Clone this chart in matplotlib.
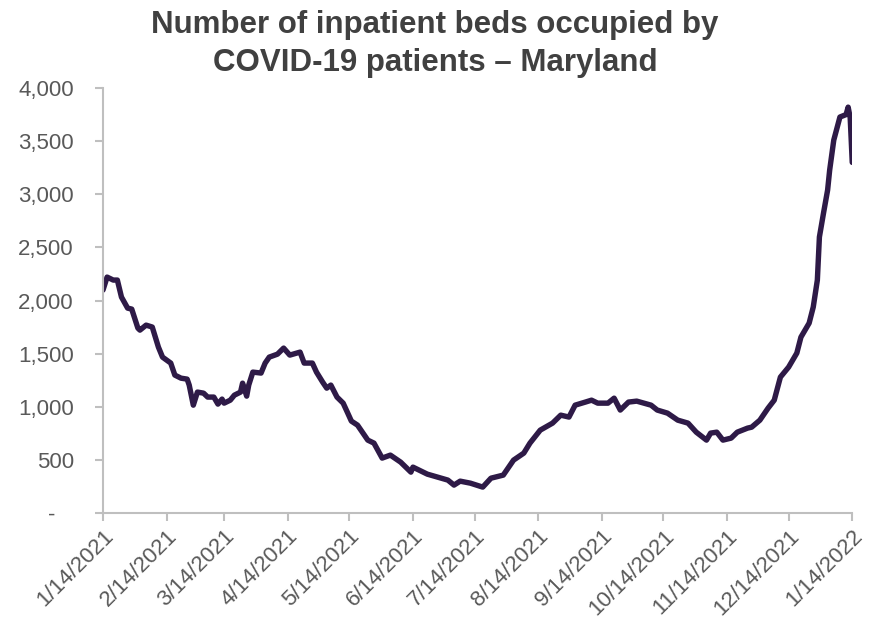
import pandas as pd
import matplotlib
matplotlib.use('Agg')
import matplotlib.pyplot as plt
import matplotlib.dates as mdates
from matplotlib.ticker import FuncFormatter

plt.rcParams['font.family'] = ['Liberation Sans', 'DejaVu Sans']

# days after 1/14/2021 and beds occupied
days = [0, 2, 5, 7, 9, 12, 14, 17, 18, 21, 24, 27, 29, 33, 35, 38, 41, 42, 44, 46,
        49, 51, 54, 56, 58, 59, 62, 64, 67, 68, 70, 71, 73, 77, 79, 81, 85, 88, 91, 96,
        98, 102, 104, 107, 109, 111, 114, 117, 119, 121, 124, 129, 132, 136, 140, 145, 150, 151, 158, 163,
        168, 171, 174, 179, 185, 189, 195, 200, 205, 208, 213, 219, 223, 227, 230, 235, 238, 241, 246, 249,
        252, 256, 260, 267, 270, 275, 280, 285, 289, 294, 296, 299, 302, 306, 309, 314, 316, 320, 324, 327,
        330, 334, 338, 340, 344, 346, 348, 349, 351, 353, 354, 356, 359, 362, 363, 364, 365]
beds = [2099, 2221, 2193, 2193, 2033, 1929, 1920, 1741, 1722, 1769, 1751, 1562, 1468, 1412, 1299, 1270, 1261, 1205, 1016, 1139,
        1129, 1092, 1092, 1026, 1073, 1035, 1063, 1110, 1139, 1223, 1101, 1205, 1327, 1318, 1412, 1468, 1496, 1553, 1487, 1515,
        1412, 1412, 1327, 1233, 1176, 1205, 1092, 1035, 951, 866, 828, 687, 659, 518, 546, 480, 386, 433, 367, 339,
        311, 264, 301, 282, 245, 329, 358, 499, 565, 659, 781, 847, 922, 904, 1016, 1045, 1063, 1035, 1035, 1082,
        970, 1045, 1054, 1016, 970, 941, 875, 847, 762, 687, 753, 762, 687, 706, 762, 800, 809, 875, 988, 1063,
        1280, 1374, 1506, 1656, 1788, 1939, 2193, 2598, 2823, 3040, 3228, 3510, 3727, 3750, 3820, 3720, 3300]

start = pd.Timestamp('2021-01-14')
end = pd.Timestamp('2022-01-14')
dates = start + pd.to_timedelta(days, unit='D')
tick_dates = pd.date_range('2021-01-01', '2022-01-01', freq='MS') + pd.Timedelta(days=13)

fig = plt.figure(figsize=(8.75, 6.22), dpi=100)
ax = fig.add_axes([0.1177, 0.175, 0.8563, 0.6835])

ax.plot(dates, beds, color='#2E1A47', lw=3.9, solid_joinstyle='round', solid_capstyle='round')

ax.set_xlim(start, end)
ax.set_ylim(0, 4000)
ax.set_yticks(range(0, 4001, 500))
ax.yaxis.set_major_formatter(FuncFormatter(lambda v, p: '-   ' if v == 0 else f'{int(v):,}'))
ax.set_xticks(tick_dates)
ax.xaxis.set_major_formatter(FuncFormatter(
    lambda v, p: f'{mdates.num2date(v).month}/{mdates.num2date(v).day}/{mdates.num2date(v).year}'))

for s in ['top', 'right']:
    ax.spines[s].set_visible(False)
for s in ['left', 'bottom']:
    ax.spines[s].set_color('#BFBFBF')
    ax.spines[s].set_linewidth(1.5)

ax.tick_params(axis='both', colors='#BFBFBF', width=1.5, length=6, labelcolor='#595959', labelsize=16)
ax.tick_params(axis='y', pad=15)
ax.tick_params(axis='x', pad=3)
for lbl in ax.get_xticklabels():
    lbl.set_rotation(45)
    lbl.set_ha('right')
    lbl.set_rotation_mode('anchor')

fig.text(0.497, 0.984, 'Number of inpatient beds occupied by\nCOVID-19 patients \u2013 Maryland',
         ha='center', va='top', fontsize=22.5, fontweight='bold', color='#404040', linespacing=1.33)

fig.savefig('out.png', dpi=100)
